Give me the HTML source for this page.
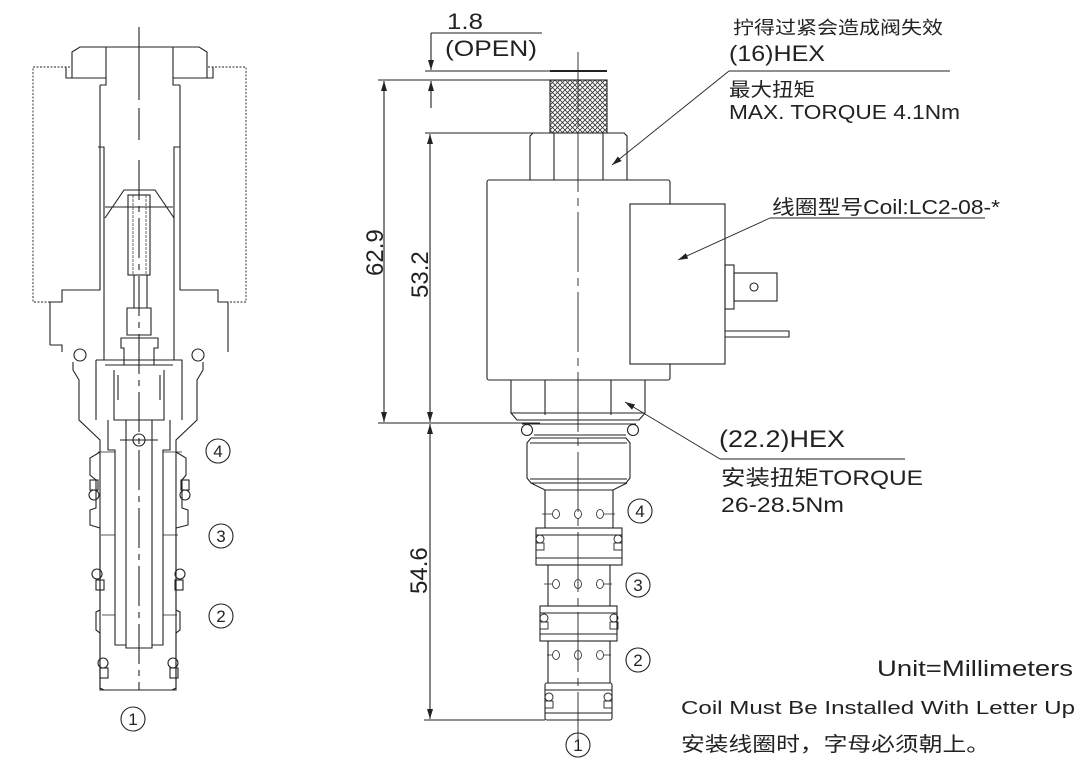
<!DOCTYPE html>
<html><head><meta charset="utf-8"><style>
html,body{margin:0;padding:0;background:#fff;}
svg{display:block;}
text{font-family:"Liberation Sans","Noto Sans CJK SC",sans-serif;fill:#222;}
</style></head><body>
<svg width="1088" height="774" viewBox="0 0 1088 774" xmlns="http://www.w3.org/2000/svg">
<defs>
<pattern id="kn" width="5" height="5" patternUnits="userSpaceOnUse">
<path d="M0 0L5 5M5 0L0 5" stroke="#333" stroke-width="0.8"/>
</pattern>
<marker id="ar" markerWidth="10" markerHeight="6" refX="10" refY="3" orient="auto" markerUnits="userSpaceOnUse">
<path d="M0 0L10 3L0 6z" fill="#222"/>
</marker>
</defs>
<g fill="none" stroke="#222" stroke-width="1.1">
<line x1="139" y1="27" x2="139" y2="100"/>
<line x1="139" y1="108" x2="139" y2="140" />
<line x1="139" y1="160" x2="139" y2="690" stroke-dasharray="40,6,6,6"/>
<path d="M70 67H33V302H62M208 67H246V302H228" stroke-dasharray="2,1.5" stroke-width="0.9"/>
<path d="M72 52L80 47H106V78H72Z"/>
<path d="M207 52L199 47H173V78H207Z"/>
<path d="M66 67V78H72M213 67V78H207"/>
<path d="M106 47H173M100 85V290H62V302H50V345M180 85V290H218V302H228V345"/>
<path d="M106 78L106 85H100M173 78V85H180"/>
<path d="M98 147H104V360M180 147H174V360"/>
<path d="M105 207H173M105 218L124 190H155L174 218"/>
<rect x="128" y="195" width="22" height="80"/>
<g stroke-width="0.7">
<line x1="133" y1="195" x2="133" y2="275" stroke-dasharray="3,1"/>
<line x1="146" y1="195" x2="146" y2="275" stroke-dasharray="3,1"/>
</g>
<path d="M134 275V308H147V275M127 308H151V335H127Z"/>
<path d="M121 338H158V348H154V365H124V348H121Z"/>
<path d="M50 345L62 345V352M228 345V352"/>
<circle cx="80" cy="355" r="6"/><circle cx="198" cy="355" r="6"/>
<path d="M73 362V370L79 380V420L100 440V690H176V440L197 420V380L203 370V362"/>
<path d="M96 360H182V420M96 360V420M105 365H173"/>
<path d="M114 370V420H164V370M118 375V400M160 375V400"/>
<path d="M108 420V450H115V455M170 420V450H163V455"/>
<circle cx="139" cy="440" r="6"/>
<path d="M120 440H158"/>
<path d="M115 455V645H126V648H152V645H163V455"/>
<path d="M126 420V645M152 420V645"/>
<path d="M100 452L90 458V475L96 480V508L90 510V525L100 528V610L96 612V630L100 633V645M176 452L186 458V475L182 480V508L188 510V525L176 528V610L180 612V630L176 633V645"/>
<path d="M100 645V688L104 690M176 645V688L172 690"/>
<g>
<circle cx="94" cy="495" r="5"/><circle cx="185" cy="495" r="5"/>
<circle cx="97" cy="574" r="5"/><circle cx="180" cy="574" r="5"/>
<circle cx="103" cy="663" r="5"/><circle cx="173" cy="663" r="5"/>
<rect x="90" y="480" width="8" height="10"/><rect x="181" y="480" width="8" height="10"/>
<rect x="96" y="580" width="8" height="10"/><rect x="175" y="580" width="8" height="10"/>
<rect x="100" y="668" width="8" height="10"/><rect x="170" y="668" width="8" height="10"/>
</g>
<path d="M98 452H115M163 452H182M101 535H115M163 535H178M102 615H115M163 615H177" stroke-width="0.8"/>
<circle cx="218" cy="451" r="12"/><circle cx="221" cy="536" r="12"/><circle cx="221" cy="616" r="12"/><circle cx="133" cy="719" r="12"/>

<line x1="578" y1="52" x2="578" y2="745" stroke-dasharray="60,6,8,6" stroke-width="0.9"/>
<path d="M431 33H542"/>
<line x1="431" y1="33" x2="431" y2="70" marker-end="url(#ar)"/>
<line x1="431" y1="108" x2="431" y2="81" marker-end="url(#ar)"/>
<line x1="425" y1="71" x2="607" y2="71" stroke-width="0.9"/>
<line x1="550" y1="71" x2="607" y2="71" stroke-width="2"/>
<line x1="378" y1="80" x2="607" y2="80"/>
<rect x="550" y="80" width="57" height="53" fill="url(#kn)"/>
<line x1="425" y1="133" x2="550" y2="133"/>
<path d="M530 180V136L533 133H624L627 136V180M554 133V180M603 133V180"/>
<rect x="487" y="180" width="183" height="200" rx="2"/>
<rect x="630" y="204" width="95" height="160" fill="#fff"/>
<rect x="725" y="265" width="9" height="44"/>
<rect x="734" y="273" width="43" height="28"/>
<circle cx="754" cy="287" r="4"/>
<path d="M725 331H789V337H725"/>
<path d="M511 380V413H645V380M545 380V415M611 380V415"/>
<path d="M511 413L517 420H639L645 413"/>
<line x1="378" y1="423" x2="540" y2="423"/>
<line x1="384" y1="250" x2="384" y2="81" marker-end="url(#ar)"/>
<line x1="384" y1="250" x2="384" y2="422" marker-end="url(#ar)"/>
<line x1="430" y1="250" x2="430" y2="134" marker-end="url(#ar)"/>
<line x1="430" y1="250" x2="430" y2="422" marker-end="url(#ar)"/>
<line x1="430" y1="570" x2="430" y2="424" marker-end="url(#ar)"/>
<line x1="430" y1="570" x2="430" y2="719" marker-end="url(#ar)"/>
<line x1="424" y1="720" x2="545" y2="720"/>
<circle cx="527" cy="430" r="5.5"/><circle cx="633" cy="430" r="5.5"/>
<path d="M522 424H636M534 435H626"/>
<path d="M531 438H626L630 443V478L626 483H531L527 478V443Z"/>
<line x1="530" y1="443" x2="627" y2="443"/><line x1="530" y1="479" x2="627" y2="479"/>
<path d="M531 483L545 490H613L627 483"/>
<path d="M545 490V528M613 490V528"/>
<rect x="536" y="528" width="86" height="37"/>
<path d="M536 535H622M536 558H622"/>
<path d="M548 565V606M610 565V606"/>
<rect x="540" y="606" width="77" height="35"/>
<path d="M540 613H617M540 634H617"/>
<path d="M548 641V683M610 641V683"/>
<rect x="545" y="683" width="67" height="37" rx="2"/>
<path d="M545 690H612M545 713H612"/>
<g stroke-width="0.9">
<circle cx="540" cy="539" r="4"/><circle cx="618" cy="539" r="4"/><rect x="536" y="543" width="8" height="7"/><rect x="614" y="543" width="8" height="7"/>
<circle cx="544" cy="618" r="4"/><circle cx="614" cy="618" r="4"/><rect x="540" y="622" width="8" height="7"/><rect x="610" y="622" width="8" height="7"/>
<circle cx="549" cy="697" r="4"/><circle cx="608" cy="697" r="4"/><rect x="545" y="701" width="8" height="7"/><rect x="604" y="701" width="8" height="7"/>
</g>
<g stroke-width="0.8">
<ellipse cx="556" cy="514" rx="3.5" ry="4.5"/><ellipse cx="578" cy="514" rx="3.5" ry="4.5"/><ellipse cx="600" cy="514" rx="3.5" ry="4.5"/>
<ellipse cx="556" cy="584" rx="3.5" ry="4.5"/><ellipse cx="578" cy="584" rx="3.5" ry="4.5"/><ellipse cx="600" cy="584" rx="3.5" ry="4.5"/>
<ellipse cx="556" cy="655" rx="3.5" ry="4.5"/><ellipse cx="578" cy="655" rx="3.5" ry="4.5"/><ellipse cx="600" cy="655" rx="3.5" ry="4.5"/>
<path d="M542 514H552M604 514H615M544 584H552M604 584H612M547 655H552M604 655H611"/>
</g>
<circle cx="640" cy="511" r="12"/><circle cx="638" cy="585" r="12"/><circle cx="638" cy="660" r="12"/><circle cx="578" cy="745" r="12"/>
<path d="M950 71H729"/>
<line x1="729" y1="71" x2="612" y2="165" marker-end="url(#ar)" stroke-width="0.9"/>
<path d="M985 218H770"/>
<line x1="770" y1="218" x2="678" y2="260" marker-end="url(#ar)" stroke-width="0.9"/>
<path d="M905 459H720"/>
<line x1="720" y1="459" x2="625" y2="402" marker-end="url(#ar)" stroke-width="0.9"/>
</g>
<g font-size="17" text-anchor="middle" style="font-family:'Liberation Sans',sans-serif">
<text x="218" y="457">4</text><text x="221" y="542">3</text><text x="221" y="622">2</text><text x="133" y="725">1</text>
<text x="640" y="517">4</text><text x="638" y="591">3</text><text x="638" y="666">2</text><text x="578" y="751">1</text>
</g>
<text x="447" y="29" font-size="22" textLength="36" lengthAdjust="spacingAndGlyphs">1.8</text>
<text x="445" y="56" font-size="22" textLength="92" lengthAdjust="spacingAndGlyphs">(OPEN)</text>
<text font-size="24" transform="translate(383 276) rotate(-90)">62.9</text>
<text font-size="24" transform="translate(428 298) rotate(-90)">53.2</text>
<text font-size="24" transform="translate(427 594) rotate(-90)">54.6</text>
<text x="733" y="34" font-size="18" textLength="210" lengthAdjust="spacingAndGlyphs">拧得过紧会造成阀失效</text>
<text x="729" y="61" font-size="22" textLength="96" lengthAdjust="spacingAndGlyphs">(16)HEX</text>
<text x="729" y="96" font-size="19" textLength="86" lengthAdjust="spacingAndGlyphs">最大扭矩</text>
<text x="729" y="119" font-size="20" textLength="231" lengthAdjust="spacingAndGlyphs">MAX. TORQUE 4.1Nm</text>
<text x="772" y="214" font-size="20" textLength="228" lengthAdjust="spacingAndGlyphs">线圈型号Coil:LC2-08-*</text>
<text x="719" y="447" font-size="24" textLength="126" lengthAdjust="spacingAndGlyphs">(22.2)HEX</text>
<text x="721" y="485" font-size="21" textLength="202" lengthAdjust="spacingAndGlyphs">安装扭矩TORQUE</text>
<text x="721" y="512" font-size="21" textLength="123" lengthAdjust="spacingAndGlyphs">26-28.5Nm</text>
<text x="877" y="676" font-size="22" textLength="196" lengthAdjust="spacingAndGlyphs">Unit=Millimeters</text>
<text x="681" y="714" font-size="18" textLength="394" lengthAdjust="spacingAndGlyphs">Coil Must Be Installed With Letter Up</text>
<text x="681" y="751" font-size="20" textLength="309" lengthAdjust="spacingAndGlyphs">安装线圈时，字母必须朝上。</text>
</svg>
</body></html>
